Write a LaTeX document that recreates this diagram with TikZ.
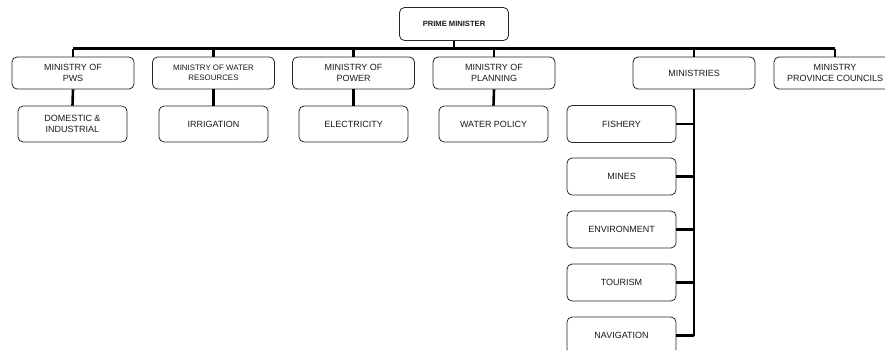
\documentclass[tikz,border=0pt]{standalone}
\usepackage{fontspec}
\setmainfont{Liberation Sans}
\begin{document}
\begin{tikzpicture}[x=1pt,y=-1pt,
  box/.style={draw=black!85, line width=0.8pt, rounded corners=5pt, align=center, inner sep=1pt,
    font=\fontsize{9}{11}\selectfont, text=black!90},
  top/.style={box, minimum width=122pt, minimum height=32pt},
  sub/.style={box, minimum width=109pt, minimum height=36pt},
  link/.style={line width=2.6pt, black}
]
\useasboundingbox (0,0) rectangle (885,349);
\node[box, minimum width=109pt, minimum height=33pt, font=\fontsize{7.6}{9}\selectfont\bfseries] (pm) at (454,24) {PRIME MINISTER};
\coordinate (busL) at (73,48.5);
\coordinate (busR) at (835,48.5);

\node[top] (pws) at (73,73) {MINISTRY OF\\PWS};
\node[top, font=\fontsize{7.9}{10}\selectfont] (wr) at (213.5,73) {MINISTRY OF WATER\\RESOURCES};
\node[top] (pow) at (353.5,73) {MINISTRY OF\\POWER};
\node[top] (plan) at (494,73) {MINISTRY OF\\PLANNING};
\node[top] (mins) at (694,73) {MINISTRIES};
\node[top] (prov) at (835,73) {MINISTRY\\PROVINCE COUNCILS};

\node[sub] (dom) at (72.5,124) {DOMESTIC \&\\INDUSTRIAL};
\node[sub] (irr) at (213.5,124) {IRRIGATION};
\node[sub] (ele) at (353.5,124) {ELECTRICITY};
\node[sub] (wpol) at (493.5,124) {WATER POLICY};

\node[sub, minimum height=37pt] (fish) at (621.5,124) {FISHERY};
\node[sub, minimum height=37pt] (mine) at (621.5,176.5) {MINES};
\node[sub, minimum height=37pt] (env) at (621.5,229.5) {ENVIRONMENT};
\node[sub, minimum height=37pt] (tour) at (621.5,282.5) {TOURISM};
\node[sub, minimum height=37pt] (nav) at (621.5,335.5) {NAVIGATION};

\draw[link] (pm.south) -- (pm.south |- busL);
\draw[link] (busL) -- (busR);
\foreach \n in {pws,wr,pow,plan,mins,prov}
  \draw[link] (\n.north) -- (\n.north |- busL);
\draw[link] (pws.south) -- (dom.north);
\draw[link] (wr.south) -- (irr.north);
\draw[link] (pow.south) -- (ele.north);
\draw[link] (plan.south) -- (wpol.north);
\draw[link] (mins.south) -- (mins.south |- nav.east);
\foreach \n in {fish,mine,env,tour,nav}
  \draw[link] (\n.east) -- (\n.east -| mins.south);
\end{tikzpicture}
\end{document}
